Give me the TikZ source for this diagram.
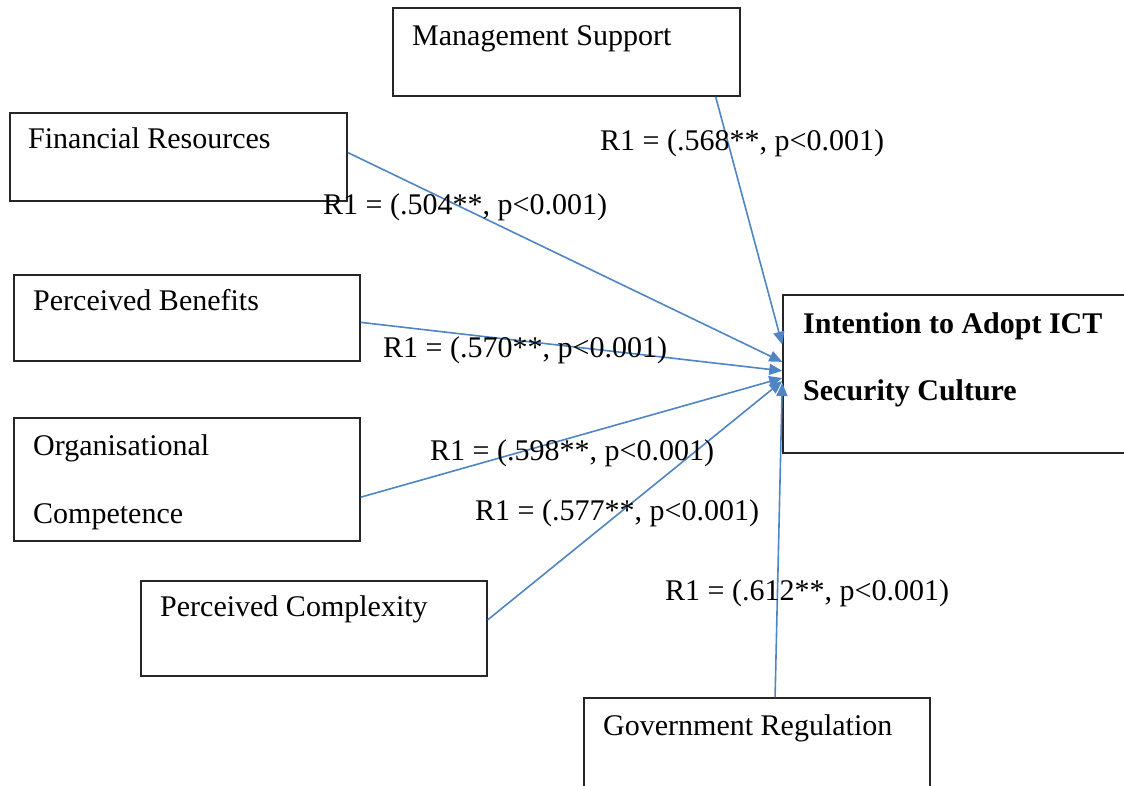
\documentclass[tikz,border=0pt]{standalone}
\usepackage{fontspec}
\setmainfont{Liberation Serif}
\usetikzlibrary{arrows.meta, calc}
\definecolor{linkblue}{RGB}{79,133,197}

\begin{document}
\begin{tikzpicture}[
    x=1pt, y=-1pt,
    box/.style={rectangle, draw=black!85, line width=1.5pt, inner sep=0pt},
    txt/.style={anchor=base west, inner sep=0pt, font=\fontsize{30}{36}\selectfont},
    bold/.style={txt, font=\fontsize{30}{36}\selectfont\bfseries},
    arrow/.style={-{Triangle[length=13pt, width=11pt]}, line width=1.6pt, linkblue}
]
\useasboundingbox (0,0) rectangle (1124,785);

% boxes
\node[box, minimum width=347pt, minimum height=88pt] (ms) at (566.5,52) {};
\node[box, minimum width=337pt, minimum height=88pt] (fr) at (178.5,157) {};
\node[box, minimum width=346pt, minimum height=86pt] (pb) at (187,318) {};
\node[box, minimum width=346pt, minimum height=123pt] (oc) at (187,479.5) {};
\node[box, minimum width=346pt, minimum height=95pt] (pc) at (314,628.5) {};
\node[box, minimum width=357pt, minimum height=158pt] (ia) at (961.5,374) {};
\node[box, minimum width=346pt, minimum height=102pt] (gr) at (757,749) {};

% box texts
\node[txt] (mstext) at (412,45) {Management Support};
\node[txt] (frtext) at (28,148) {Financial Resources};
\node[txt] (pbtext) at (33,310) {Perceived Benefits};
\node[txt] (octext) at (33,455) {Organisational};
\node[txt] (octext2) at (33,523) {Competence};
\node[txt] (pctext) at (160,616) {Perceived Complexity};
\node[bold] (iatext) at (803,333) {Intention to Adopt ICT};
\node[bold] (iatext2) at (803,400) {Security Culture};
\node[txt] (grtext) at (603,735) {Government Regulation};

% paths
\draw[arrow] ($(ms.south west)!0.928!(ms.south east)$) -- ($(ia.north west)!0.316!(ia.south west)$);
\draw[arrow] ($(fr.north east)!0.45!(fr.south east)$) -- ($(ia.north west)!0.424!(ia.south west)$);
\draw[arrow] ($(pb.north east)!0.55!(pb.south east)$) -- ($(ia.north west)!0.48!(ia.south west)$);
\draw[arrow] ($(oc.north east)!0.642!(oc.south east)$) -- ($(ia.north west)!0.525!(ia.south west)$);
\draw[arrow] ($(pc.north east)!0.41!(pc.south east)$) -- ($(ia.north west)!0.544!(ia.south west)$);
\draw[arrow] ($(gr.north west)!0.552!(gr.north east)$) -- ($(ia.north west)!0.556!(ia.south west)$);

% coefficients
\node[txt] (r568) at (600,150) {R1 = (.568**, p<0.001)};
\node[txt] (r504) at (323,214) {R1 = (.504**, p<0.001)};
\node[txt] (r570) at (383,357) {R1 = (.570**, p<0.001)};
\node[txt] (r598) at (430,460) {R1 = (.598**, p<0.001)};
\node[txt] (r577) at (475,520) {R1 = (.577**, p<0.001)};
\node[txt] (r612) at (665,600) {R1 = (.612**, p<0.001)};
\end{tikzpicture}
\end{document}
